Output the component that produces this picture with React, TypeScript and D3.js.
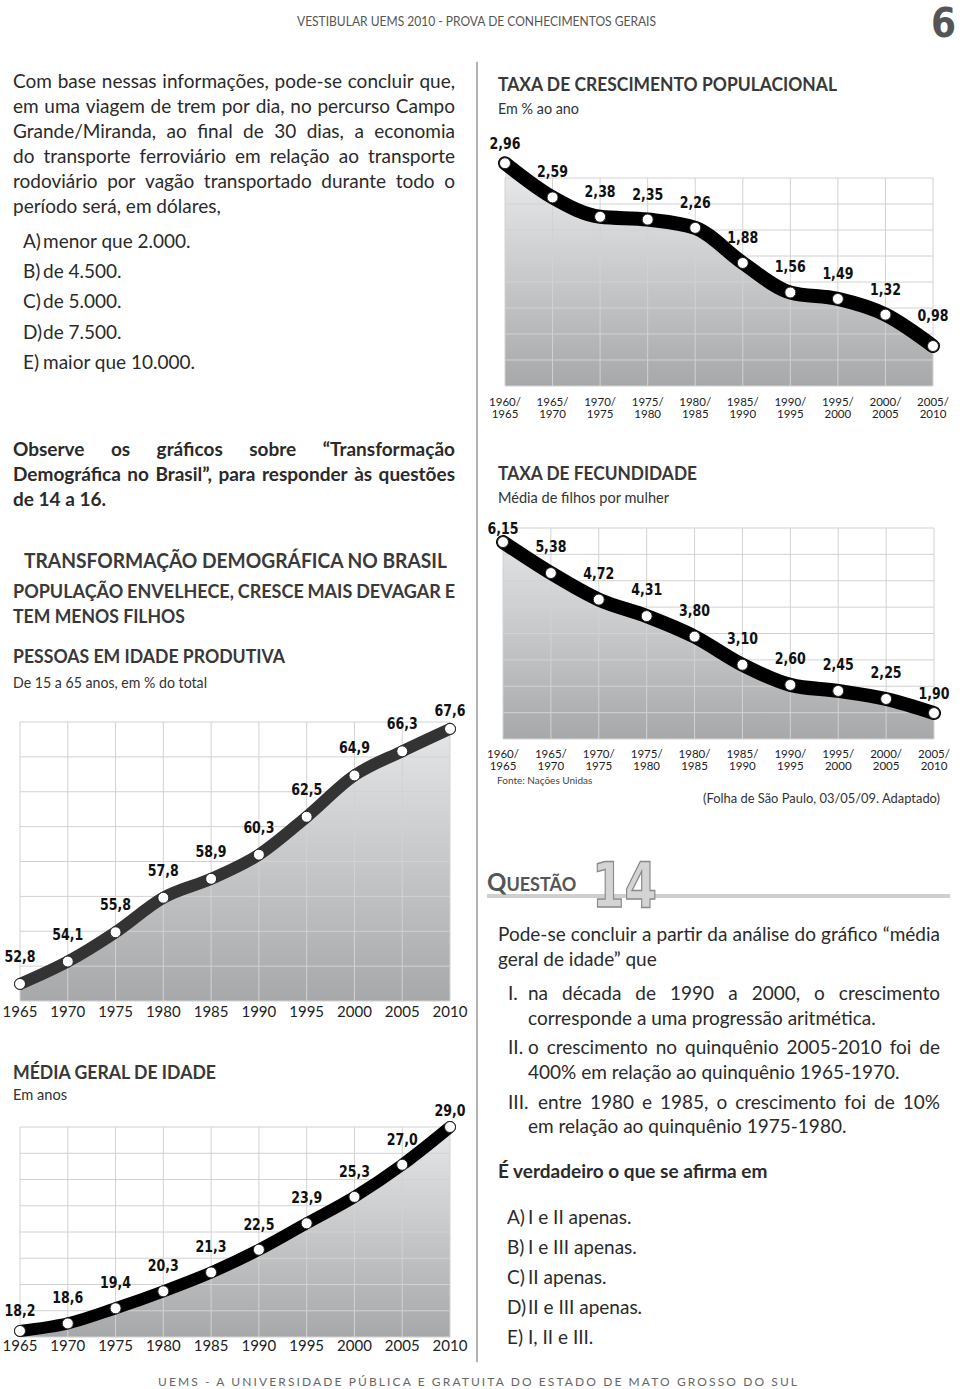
import React from 'react';
import * as d3 from 'd3';

// ---------- DATA ----------
const anos = ['1965', '1970', '1975', '1980', '1985', '1990', '1995', '2000', '2005', '2010'];
const pessoasIdadeProdutiva = [52.8, 54.1, 55.8, 57.8, 58.9, 60.3, 62.5, 64.9, 66.3, 67.6];
const mediaGeralIdade = [18.2, 18.6, 19.4, 20.3, 21.3, 22.5, 23.9, 25.3, 27.0, 29.0];
const periodos = ['1960/1965', '1965/1970', '1970/1975', '1975/1980', '1980/1985', '1985/1990', '1990/1995', '1995/2000', '2000/2005', '2005/2010'];
const taxaCrescimento = [2.96, 2.59, 2.38, 2.35, 2.26, 1.88, 1.56, 1.49, 1.32, 0.98];
const taxaFecundidade = [6.15, 5.38, 4.72, 4.31, 3.80, 3.10, 2.60, 2.45, 2.25, 1.90];

const BODY = "Lato, 'Open Sans', sans-serif";
const COND = "'DejaVu Sans Condensed', 'DejaVu Sans', sans-serif";
const TXT = '#2a2a2a';

let ctx: CanvasRenderingContext2D | null = null;
function measure(text: string, font: string) {
  if (!ctx) ctx = document.createElement('canvas').getContext('2d');
  ctx!.font = font;
  return ctx!.measureText(text).width;
}

function Line({ x, y, text, size = 19, weight = 400, fill = TXT, width, family = BODY }: any) {
  if (!width) {
    return (
      <text x={x} y={y} fontSize={size} fontWeight={weight} fill={fill} fontFamily={family}>{text}</text>
    );
  }
  const words = text.split(' ');
  const font = `${weight} ${size}px ${family}`;
  const ws = words.map((w: string) => measure(w, font));
  const total = ws.reduce((a: number, b: number) => a + b, 0);
  const minGap = size * 0.2;
  let gap = words.length > 1 ? (width - total) / (words.length - 1) : 0;
  let k = 1;
  if (gap < minGap) {
    gap = minGap;
    k = (width - minGap * (words.length - 1)) / total;
  }
  let cx = x;
  return (
    <g>
      {words.map((w: string, i: number) => {
        const el = (
          <text key={i} x={cx} y={y} fontSize={size} fontWeight={weight} fill={fill} fontFamily={family}
            {...(k !== 1 ? { textLength: ws[i] * k, lengthAdjust: 'spacingAndGlyphs' } : {})}>{w}</text>
        );
        cx += ws[i] * k + gap;
        return el;
      })}
    </g>
  );
}

function Fit({ x, y, text, size, weight = 700, fill = '#383838', w, family = BODY, anchor = 'start', adjust = 'spacingAndGlyphs' }: any) {
  return (
    <text x={x} y={y} fontSize={size} fontWeight={weight} fill={fill} fontFamily={family}
      textAnchor={anchor} textLength={w} lengthAdjust={adjust}>{text}</text>
  );
}

function LineChart({ id, values, ticks, x0, x1, top, bottom, rows, domain, lineColor, lineWidth, labelDy, firstDy, lastDy, tickY, twoLine, digits }: any) {
  const x = d3.scalePoint<string>().domain(ticks).range([x0, x1]);
  const y = d3.scaleLinear().domain(domain).range([bottom, top]);
  const pts: [number, number][] = values.map((v: number, i: number) => [x(ticks[i])!, y(v)]);
  const linePath = d3.line().curve(d3.curveMonotoneX)(pts)!;
  const areaPath = d3.area<[number, number]>().x(d => d[0]).y0(bottom).y1(d => d[1]).curve(d3.curveMonotoneX)(pts)!;
  const gridY = d3.range(rows + 1).map(i => top + ((bottom - top) * i) / rows);
  const fmt = (v: number) => v.toFixed(digits).replace('.', ',');
  const dyFor = (i: number) => (i === 0 ? firstDy : i === values.length - 1 ? lastDy : labelDy);
  return (
    <g>
      <defs>
        <linearGradient id={id} gradientUnits="userSpaceOnUse" x1="0" y1={top} x2="0" y2={bottom}>
          <stop offset="0" stopColor="#e6e7e8" />
          <stop offset="1" stopColor="#a7a8aa" />
        </linearGradient>
      </defs>
      <rect x={x0} y={top} width={x1 - x0} height={bottom - top} fill="#fff" />
      <path d={areaPath} fill={`url(#${id})`} />
      {gridY.map((gy, i) => (
        <line key={'h' + i} x1={x0} x2={x1} y1={gy} y2={gy} stroke="#d2d2d2" strokeWidth={1} />
      ))}
      {ticks.map((t: string) => (
        <line key={'v' + t} x1={x(t)} x2={x(t)} y1={top} y2={bottom} stroke="#d2d2d2" strokeWidth={1} />
      ))}
      <path d={linePath} fill="none" stroke={lineColor} strokeWidth={lineWidth} strokeLinecap="round" strokeLinejoin="round" />
      {pts.map((p, i) => (
        <circle key={'c' + i} cx={p[0]} cy={p[1]} r={5.5} fill="#fff" stroke="#222" strokeWidth={1} />
      ))}
      {pts.map((p, i) => (
        <text key={'l' + i} x={p[0]} y={p[1] - dyFor(i)} textAnchor="middle" fontFamily={COND} fontWeight={700}
          fontSize={16} fill="#111" textLength={31} lengthAdjust="spacingAndGlyphs">{fmt(values[i])}</text>
      ))}
      {ticks.map((t: string) => twoLine ? (
        <g key={'t' + t}>
          <text x={x(t)} y={tickY} textAnchor="middle" fontFamily={BODY} fontSize={11.5} fill="#222">{t.split('/')[0] + '/'}</text>
          <text x={x(t)} y={tickY + 12} textAnchor="middle" fontFamily={BODY} fontSize={11.5} fill="#222">{t.split('/')[1]}</text>
        </g>
      ) : (
        <text key={'t' + t} x={x(t)} y={tickY} textAnchor="middle" fontFamily={BODY} fontSize={15} fill="#222">{t}</text>
      ))}
    </g>
  );
}

export default function App() {
  return (
    <svg width={960} height={1389} viewBox="0 0 960 1389" style={{ position: 'absolute', left: 0, top: 0, background: '#fff' }}
      xmlns="http://www.w3.org/2000/svg">
      <rect x={0} y={0} width={960} height={1389} fill="#fff" />
      {/* header */}
      <Fit x={297} y={26} text="VESTIBULAR UEMS 2010 - PROVA DE CONHECIMENTOS GERAIS" size={13} weight={400} fill="#555" w={359} />
      <text x={956} y={37} textAnchor="end" fontFamily={COND} fontWeight={700} fontSize={40} fill="#555">6</text>

      {/* divider */}
      <line x1={477} x2={477} y1={62} y2={1362} stroke="#9a9a9a" strokeWidth={1.5} />

      {/* left column text */}
      <Line x={13} y={88} width={442} text="Com base nessas informações, pode-se concluir que," />
      <Line x={13} y={113} width={442} text="em uma viagem de trem por dia, no percurso Campo" />
      <Line x={13} y={138} width={442} text="Grande/Miranda, ao final de 30 dias, a economia" />
      <Line x={13} y={163} width={442} text="do transporte ferroviário em relação ao transporte" />
      <Line x={13} y={188} width={442} text="rodoviário por vagão transportado durante todo o" />
      <Line x={13} y={213} text="período será, em dólares," />
      {[['A)', 'menor que 2.000.'], ['B)', 'de 4.500.'], ['C)', 'de 5.000.'], ['D)', 'de 7.500.'], ['E)', 'maior que 10.000.']].map((o, i) => (
        <g key={o[0]}>
          <Line x={23} y={248 + i * 30.2} text={o[0]} />
          <Line x={43} y={248 + i * 30.2} text={o[1]} />
        </g>
      ))}

      <Line x={13} y={456} width={442} weight={700} text="Observe os gráficos sobre “Transformação" />
      <Line x={13} y={481} width={442} weight={700} text="Demográfica no Brasil”, para responder às questões" />
      <Line x={13} y={506} weight={700} text="de 14 a 16." />

      <Fit x={24} y={568} text="TRANSFORMAÇÃO DEMOGRÁFICA NO BRASIL" size={21} w={423} fill="#3a3a3a" />
      <Line x={13} y={598} width={442} size={18} weight={700} fill="#3a3a3a" text="POPULAÇÃO ENVELHECE, CRESCE MAIS DEVAGAR E" />
      <Fit x={13} y={623} text="TEM MENOS FILHOS" size={18} w={172} />
      <Fit x={13} y={663} text="PESSOAS EM IDADE PRODUTIVA" size={18} w={272} />
      <Fit x={13} y={688} text="De 15 a 65 anos, em % do total" size={15} weight={400} w={194} fill="#333" />

      <LineChart id="gProd" values={pessoasIdadeProdutiva} ticks={anos} x0={20} x1={450} top={722} bottom={1001} rows={8}
        domain={[51.81, 68.0]} lineColor="#333" lineWidth={12} labelDy={22} firstDy={22} lastDy={13} tickY={1017} digits={1} />

      <Fit x={13} y={1079} text="MÉDIA GERAL DE IDADE" size={18} w={203} />
      <Fit x={13} y={1100} text="Em anos" size={15} weight={400} w={54} fill="#333" />

      <LineChart id="gIdade" values={mediaGeralIdade} ticks={anos} x0={20} x1={450} top={1127} bottom={1337} rows={8}
        domain={[17.88, 29.0]} lineColor="#000" lineWidth={12} labelDy={20} firstDy={15} lastDy={11} tickY={1351} digits={1} />

      {/* right column */}
      <Fit x={498} y={91} text="TAXA DE CRESCIMENTO POPULACIONAL" size={19} w={339} />
      <Fit x={498} y={114} text="Em % ao ano" size={15} weight={400} w={81} fill="#333" />
      <LineChart id="gCresc" values={taxaCrescimento} ticks={periodos} x0={505} x1={933} top={178} bottom={386} rows={8}
        domain={[0.547, 2.80]} lineColor="#000" lineWidth={14} labelDy={20} firstDy={14} lastDy={25} tickY={406} twoLine digits={2} />

      <Fit x={498} y={480} text="TAXA DE FECUNDIDADE" size={19} w={199} />
      <Fit x={498} y={503} text="Média de filhos por mulher" size={15} weight={400} w={171} fill="#333" />
      <LineChart id="gFec" values={taxaFecundidade} ticks={periodos} x0={503} x1={934} top={528} bottom={739} rows={8}
        domain={[1.255, 6.5]} lineColor="#000" lineWidth={14} labelDy={21} firstDy={8} lastDy={14} tickY={758} twoLine digits={2} />
      <text x={497} y={784} fontFamily={BODY} fontSize={10} fill="#444">Fonte: Nações Unidas</text>
      <Fit x={940} y={803} anchor="end" text="(Folha de São Paulo, 03/05/09. Adaptado)" size={14} weight={400} w={237} fill="#333" />

      {/* Questão 14 */}
      <line x1={487} x2={950} y1={896} y2={896} stroke="#cfcfcf" strokeWidth={4} />
      <text x={487} y={891} fontFamily={BODY} fontWeight={700} fill="#555">
        <tspan fontSize={24}>Q</tspan><tspan fontSize={18}>UESTÃO</tspan>
      </text>
      <text x={592} y={907} fontFamily="'DejaVu Sans', sans-serif" fontWeight={700} fontSize={62} fill="#d4d4d4"
        stroke="#8a8a8a" strokeWidth={1.5} textLength={65} lengthAdjust="spacingAndGlyphs">14</text>

      <Line x={498} y={941} width={442} text="Pode-se concluir a partir da análise do gráfico “média" />
      <Line x={498} y={966} text="geral de idade” que" />
      <Line x={508} y={1000} text="I." />
      <Line x={528} y={1000} width={412} text="na década de 1990 a 2000, o crescimento" />
      <Line x={528} y={1025} text="corresponde a uma progressão aritmética." />
      <Line x={508} y={1054} text="II." />
      <Line x={528} y={1054} width={412} text="o crescimento no quinquênio 2005-2010 foi de" />
      <Line x={528} y={1079} text="400% em relação ao quinquênio 1965-1970." />
      <Line x={508} y={1109} text="III." />
      <Line x={538} y={1109} width={402} text="entre 1980 e 1985, o crescimento foi de 10%" />
      <Line x={528} y={1133} text="em relação ao quinquênio 1975-1980." />
      <Line x={498} y={1178} weight={700} text="É verdadeiro o que se afirma em" />
      {[['A)', 'I e II apenas.'], ['B)', 'I e III apenas.'], ['C)', 'II apenas.'], ['D)', 'II e III apenas.'], ['E)', 'I, II e III.']].map((o, i) => (
        <g key={'q' + o[0]}>
          <Line x={507} y={1224 + i * 30} text={o[0]} />
          <Line x={528} y={1224 + i * 30} text={o[1]} />
        </g>
      ))}

      {/* footer */}
      <Fit x={158} y={1386} text="UEMS - A UNIVERSIDADE PÚBLICA E GRATUITA DO ESTADO DE MATO GROSSO DO SUL" size={12} weight={400}
        w={639} fill="#666" adjust="spacing" />
    </svg>
  );
}
